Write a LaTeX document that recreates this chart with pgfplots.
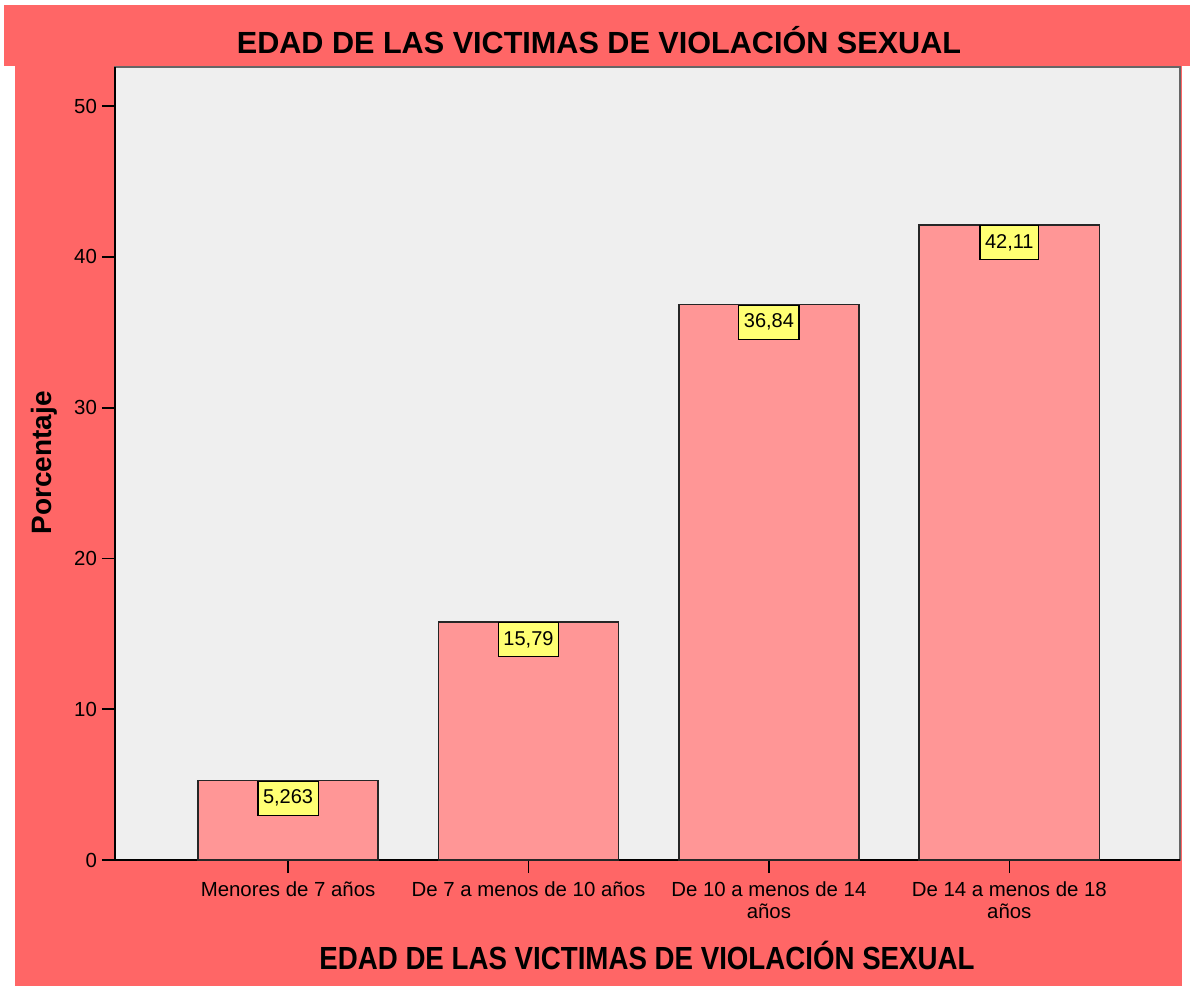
\documentclass[border=0pt]{standalone}
\usepackage{pgfplots}
\pgfplotsset{compat=1.18}
\usepackage{graphicx}
\usepackage{fontspec}
\setmainfont{Liberation Sans}
\definecolor{bgred}{RGB}{255,102,102}
\definecolor{barred}{RGB}{255,150,150}
\definecolor{plotbg}{RGB}{239,239,239}
\definecolor{lblyel}{RGB}{255,255,115}
\begin{document}
\begin{tikzpicture}
\fill[white] (0,0) rectangle (595pt,-493pt);
\useasboundingbox (0,0) rectangle (595pt,-493pt);
\fill[bgred] (2pt,-2.5pt) rectangle (595pt,-33pt);
\fill[bgred] (7.5pt,-33pt) rectangle (591pt,-493pt);
\begin{axis}[
  at={(57.5pt,-430pt)}, anchor=south west,
  scale only axis, width=532.5pt, height=396.5pt,
  xmin=-0.72, xmax=3.71, ymin=0, ymax=52.6,
  axis x line=bottom, axis y line=left,
  axis line style={-, black, line width=1pt},
  axis background/.style={fill=plotbg, draw=gray!80!black, line width=0.6pt},
  tick align=outside, major tick length=6.5pt,
  tick style={black, line width=0.8pt},
  xtick={0,1,2,3},
  xticklabels={Menores de 7 años, De 7 a menos de 10 años, De 10 a menos de 14\\años, De 14 a menos de 18\\años},
  xticklabel style={align=center, font=\fontsize{10.2}{11}\selectfont, yshift=-1pt},
  ytick={0,10,20,30,40,50},
  yticklabel style={font=\fontsize{10.2}{11}\selectfont, xshift=1pt},
  /pgf/number format/assume math mode=true,
  ybar, bar width=0.75,
  nodes near coords,
  point meta=explicit symbolic,
  every node near coord/.append style={anchor=north, fill=lblyel, draw=black, line width=0.6pt,
     font=\fontsize{10}{11}\selectfont, inner xsep=2.5pt, minimum height=17pt, yshift=0pt},
]
\addplot[fill=barred, draw=black!85, line width=0.8pt] coordinates {
  (0,5.263) [5,263]
  (1,15.79) [15,79]
  (2,36.84) [36,84]
  (3,42.11) [42,11]
};
\end{axis}
\node at (299.5pt,-20pt) {\fontsize{15.3}{18}\selectfont\bfseries EDAD DE LAS VICTIMAS DE VIOLACIÓN SEXUAL};
\node at (323.5pt,-477.5pt) {\scalebox{0.865}[1]{\fontsize{16}{19}\selectfont\bfseries EDAD DE LAS VICTIMAS DE VIOLACIÓN SEXUAL}};
\node[rotate=90] at (22pt,-231.5pt) {\fontsize{14}{16}\selectfont\bfseries Porcentaje};
\end{tikzpicture}
\end{document}
